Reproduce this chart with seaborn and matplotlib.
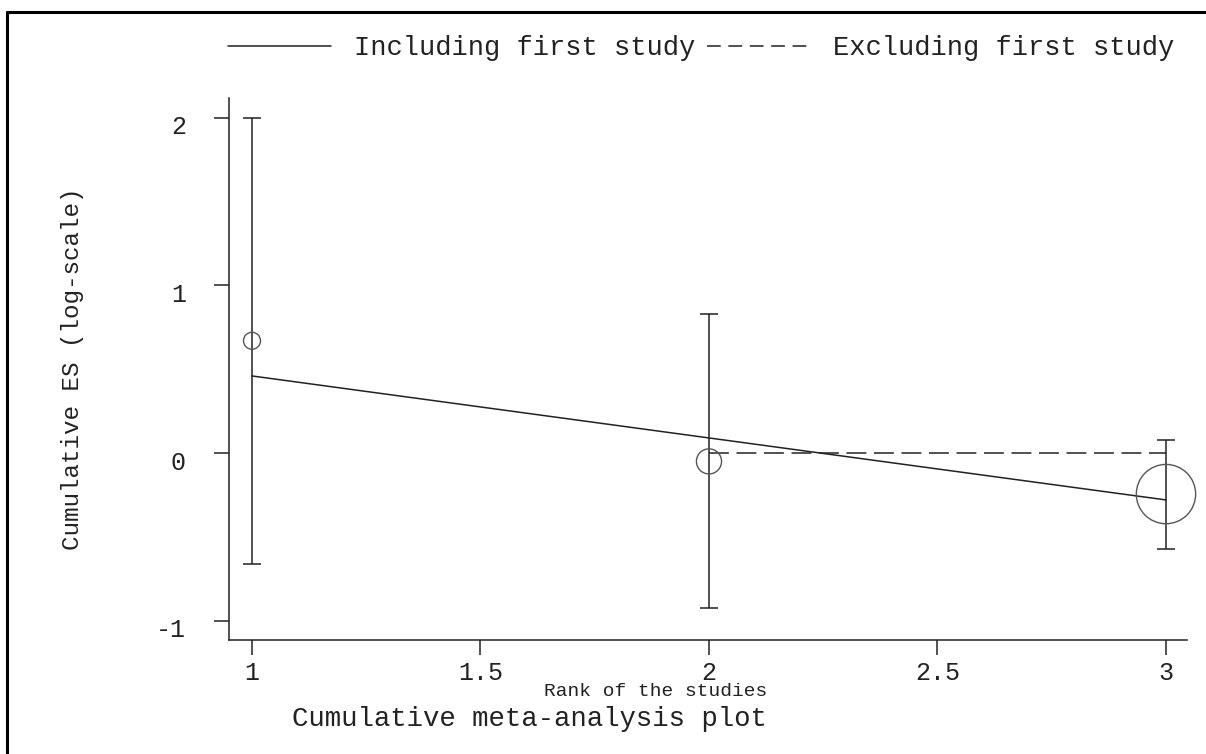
import matplotlib
matplotlib.use("Agg")
import matplotlib.pyplot as plt
import matplotlib.transforms as mtransforms
from matplotlib.lines import Line2D
import numpy as np
import pandas as pd
import seaborn as sns

# Cumulative effect sizes (log scale) by study rank
rank = [1, 2, 3]
cum_es = [0.67, -0.05, -0.245]
ci_low = [-0.66, -0.925, -0.57]
ci_high = [2.0, 0.83, 0.08]
study_weight = [6.5, 14.2, 79.3]

# Trend lines with and without the first study
incl_rank = [1, 3]
incl_fit = [0.46, -0.28]
excl_rank = [2, 3]
excl_fit = [0.0, 0.0]

x_ticks = [1, 1.5, 2, 2.5, 3]
x_tick_labels = ["1", "1.5", "2", "2.5", "3"]
y_ticks = [-1, 0, 1, 2]
y_tick_labels = ["-1", "0", "1", "2"]

legend_labels = ["Including first study", "Excluding first study"]

sns.set_style("ticks")
plt.rcParams["font.family"] = ["Liberation Mono", "DejaVu Sans Mono"]

INK = "#222222"
W, H = 1206, 754
fig = plt.figure(figsize=(W / 100, H / 100), dpi=100)
ax = fig.add_axes([229 / W, 1 - 640 / H, 958 / W, 542 / H])

df = pd.DataFrame({"rank": rank, "es": cum_es, "lo": ci_low, "hi": ci_high,
                   "weight": study_weight})

# confidence intervals
ax.errorbar(df["rank"], df["es"],
            yerr=[df["es"] - df["lo"], df["hi"] - df["es"]],
            fmt="none", ecolor=INK, elinewidth=1.1, capsize=6.5, capthick=1.1,
            zorder=2)

# weighted hollow markers
sns.scatterplot(data=df, x="rank", y="es", size="weight",
                sizes=(0, max(study_weight) * 23), size_norm=(0, max(study_weight)),
                color="#555555", legend=False, ax=ax, zorder=3)
pts = ax.collections[-1]
pts.set_facecolor("none")
pts.set_edgecolor("#555555")
pts.set_linewidth(1.0)
pts.set_clip_on(False)

# trend lines
sns.lineplot(x=incl_rank, y=incl_fit, color=INK, lw=1.1, ax=ax)
line_incl = ax.lines[-1]
sns.lineplot(x=excl_rank, y=excl_fit, color=INK, lw=1.1, ax=ax)
line_excl = ax.lines[-1]
line_excl.set_dashes((13, 5))

ax.set_xlim(0.9497, 3.046)
ax.set_ylim(-1.116, 2.119)
ax.set_xticks(x_ticks)
ax.set_xticklabels(x_tick_labels)
ax.set_yticks(y_ticks)
ax.set_yticklabels(y_tick_labels)
sns.despine(ax=ax)
for side in ("left", "bottom"):
    ax.spines[side].set_color(INK)
    ax.spines[side].set_linewidth(1.1)
ax.tick_params(axis="both", direction="out", length=11, width=1.1, colors=INK,
               labelsize=18, labelcolor=INK)
ax.tick_params(axis="x", pad=4)
ax.tick_params(axis="y", pad=20)
shift = mtransforms.ScaledTranslation(0, -7 / 100, fig.dpi_scale_trans)
for lbl in ax.get_yticklabels():
    lbl.set_transform(lbl.get_transform() + shift)

ax.set_ylabel("Cumulative ES (log-scale)", fontsize=17.5, color=INK)
ax.yaxis.set_label_coords(-0.163, 0.5)
ax.yaxis.label.set_va("center")
ax.set_xlabel("Rank of the studies", fontsize=14, color=INK)
ax.xaxis.set_label_coords((656 - 229) / 958, (640 - 692) / 542)
ax.xaxis.label.set_va("center")

fig.text(292 / W, 1 - 719 / H, "Cumulative meta-analysis plot",
         fontsize=19.7, color=INK, ha="left", va="center")

leg_handles = [Line2D([], [], color=INK, lw=1.1),
               Line2D([], [], color=INK, lw=1.1, dashes=(9, 5))]
fig.legend(leg_handles, legend_labels, loc="center left",
           bbox_to_anchor=(228 / W, 1 - 48 / H), ncol=2, frameon=False,
           fontsize=19.5, labelcolor=INK, handlelength=3.8, handletextpad=0.85,
           columnspacing=0.45, borderpad=0, borderaxespad=0)

# outer frame (top and left edges)
fig.add_artist(Line2D([7 / W, 1], [1 - 12 / H] * 2, transform=fig.transFigure,
                      color="black", lw=2.2))
fig.add_artist(Line2D([7 / W] * 2, [0, 1 - 12 / H], transform=fig.transFigure,
                      color="black", lw=2.2))

fig.savefig("out.png", dpi=100)
